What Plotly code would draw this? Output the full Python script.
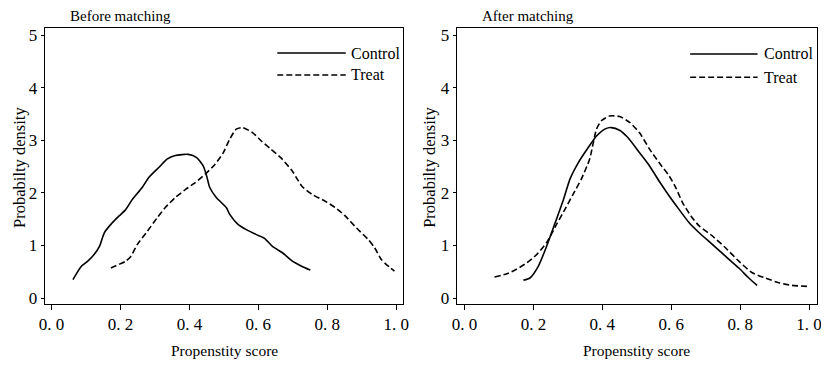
import plotly.graph_objects as go

# ---- data ----
before_control_x = [0.062, 0.086, 0.105, 0.124, 0.139, 0.153, 0.172, 0.196, 0.215, 0.234, 0.263, 0.282, 0.311,
                    0.335, 0.359, 0.397, 0.421, 0.440, 0.450, 0.459, 0.478, 0.507, 0.517, 0.541, 0.565, 0.593,
                    0.617, 0.641, 0.670, 0.699, 0.727, 0.751]
before_control_y = [0.35, 0.60, 0.70, 0.83, 0.98, 1.24, 1.40, 1.56, 1.68, 1.87, 2.10, 2.29, 2.48,
                    2.64, 2.71, 2.73, 2.67, 2.51, 2.32, 2.10, 1.91, 1.72, 1.59, 1.40, 1.30, 1.21,
                    1.14, 0.98, 0.86, 0.70, 0.60, 0.53]

before_treat_x = [0.172, 0.196, 0.215, 0.230, 0.249, 0.278, 0.306, 0.330, 0.359, 0.388, 0.416, 0.445, 0.474,
                  0.498, 0.517, 0.536, 0.555, 0.584, 0.608, 0.636, 0.665, 0.699, 0.713, 0.727, 0.756, 0.794,
                  0.823, 0.852, 0.885, 0.919, 0.938, 0.957, 0.971, 0.995]
before_treat_y = [0.57, 0.64, 0.70, 0.79, 1.02, 1.27, 1.52, 1.72, 1.91, 2.06, 2.19, 2.35, 2.54,
                  2.76, 3.02, 3.21, 3.24, 3.14, 2.99, 2.83, 2.67, 2.41, 2.26, 2.12, 1.97, 1.84,
                  1.72, 1.56, 1.33, 1.11, 0.95, 0.73, 0.64, 0.51]

after_control_x = [0.171, 0.190, 0.214, 0.238, 0.263, 0.287, 0.306, 0.330, 0.359, 0.383, 0.407, 0.426, 0.450,
                   0.474, 0.508, 0.537, 0.565, 0.594, 0.623, 0.652, 0.681, 0.719, 0.758, 0.796, 0.825, 0.849]
after_control_y = [0.34, 0.38, 0.60, 0.98, 1.43, 1.87, 2.26, 2.57, 2.86, 3.08, 3.21, 3.24, 3.19,
                   3.05, 2.76, 2.51, 2.22, 1.94, 1.68, 1.43, 1.24, 1.02, 0.79, 0.57, 0.38, 0.24]

after_treat_x = [0.087, 0.123, 0.152, 0.181, 0.210, 0.238, 0.267, 0.291, 0.315, 0.339, 0.363, 0.383, 0.397,
                 0.421, 0.450, 0.479, 0.508, 0.537, 0.565, 0.594, 0.613, 0.633, 0.657, 0.681, 0.719, 0.758,
                 0.796, 0.835, 0.873, 0.912, 0.950, 0.998]
after_treat_y = [0.40, 0.46, 0.55, 0.67, 0.83, 1.05, 1.40, 1.68, 1.97, 2.26, 2.64, 3.21, 3.37,
                 3.46, 3.45, 3.34, 3.14, 2.83, 2.57, 2.32, 2.10, 1.81, 1.56, 1.37, 1.18, 0.95,
                 0.70, 0.48, 0.38, 0.29, 0.24, 0.22]

x_tick_vals = [0.0, 0.2, 0.4, 0.6, 0.8, 1.0]
x_tick_text = ["0. 0", "0. 2", "0. 4", "0. 6", "0. 8", "1. 0"]
y_tick_vals = [0, 1, 2, 3, 4, 5]
panel_titles = ["Before matching", "After matching"]
series_names = ["Control", "Treat"]
x_title = "Propenstity score"
y_title = "Probabilty density"

# ---- figure ----
# The page body has an 8px margin; keep the figure small enough that no
# scrollbars appear (8 + W + 8 <= 829, 8 + H + 8 <= 369) and map reference
# pixel positions into figure pixels.
W, H = 813, 353
X0 = 6
S = W / (827.0 - X0)   # slight horizontal squeeze (ref x 6..827 -> fig 0..813)
FONT = "Liberation Serif"
DASH = "6px,3px"

def px(ref_x):
    return (ref_x - X0) * S / W

def py(ref_y):
    return (H - (ref_y - 8)) / H

fig = go.Figure()

def add_line(x, y, dash, xa, ya):
    fig.add_trace(go.Scatter(x=x, y=y, mode="lines", xaxis=xa, yaxis=ya, showlegend=False,
                             line=dict(color="black", width=1.6, dash=dash, shape="spline", smoothing=0.6),
                             hoverinfo="skip"))

add_line(before_control_x, before_control_y, "solid", "x", "y")
add_line(before_treat_x, before_treat_y, DASH, "x", "y")
add_line(after_control_x, after_control_y, "solid", "x2", "y2")
add_line(after_treat_x, after_treat_y, DASH, "x2", "y2")

# geometry in reference-image pixels
y_dom = [py(304), py(28)]
left_box = (43, 405)
right_box = (459, 823)

def xaxis(box, rng, anchor):
    return dict(domain=[px(box[0]), px(box[1])], range=rng, anchor=anchor, automargin=False,
                tickvals=x_tick_vals, ticktext=x_tick_text, ticks="outside", ticklen=5,
                tickcolor="black", tickwidth=1, showline=True, mirror=True, linecolor="black",
                linewidth=1, showgrid=False, zeroline=False, ticklabeloverflow="allow",
                tickfont=dict(family=FONT, size=17, color="black"))

def yaxis(rng, anchor):
    return dict(domain=y_dom, range=rng, anchor=anchor, automargin=False, tickvals=y_tick_vals,
                ticks="outside", ticklen=3, tickcolor="black", tickwidth=1,
                showline=True, mirror=True, linecolor="black", linewidth=1,
                showgrid=False, zeroline=False,
                tickfont=dict(family=FONT, size=17, color="black"))

xr_left = [(43 - 50) / 348, (405 - 50) / 348]
xr_right = [(459 - 467) / 348, (823 - 467) / 348]
yr = [(298 - 304) / 52.6, (298 - 28) / 52.6]

fig.update_layout(
    width=W, height=H, margin=dict(l=0, r=0, t=0, b=0),
    paper_bgcolor="white", plot_bgcolor="white",
    xaxis=xaxis(left_box, xr_left, "y"),
    yaxis=yaxis(yr, "x"),
    xaxis2=xaxis(right_box, xr_right, "y2"),
    yaxis2=yaxis(yr, "x2"),
    showlegend=False,
)

def paper_text(xpix, ypix, txt, size, xanchor="center", angle=0):
    fig.add_annotation(x=px(xpix), y=py(ypix), xref="paper", yref="paper", text=txt,
                       showarrow=False, xanchor=xanchor, yanchor="middle", textangle=angle,
                       font=dict(family=FONT, size=size, color="black"))

# panel titles
paper_text(67, 16, panel_titles[0], 15, xanchor="left")
paper_text(483, 16, panel_titles[1], 15, xanchor="left")
# axis titles
paper_text(225, 350, x_title, 15.5)
paper_text(641, 350, x_title, 15.5)
paper_text(18, 167, y_title, 16.5, angle=-90)
paper_text(432, 167, y_title, 16.5, angle=-90)

# legends (keys drawn as shapes in axis-domain coordinates)
legend_specs = [
    ("x domain", "y domain", 0.649, 0.840, 0.848, [0.909, 0.830]),
    ("x2 domain", "y2 domain", 0.648, 0.835, 0.846, [0.906, 0.822]),
]
for xref, yref, x0, x1, xt, ys in legend_specs:
    for name, dash, yy in zip(series_names, ["solid", DASH], ys):
        fig.add_shape(type="line", xref=xref, yref=yref, x0=x0, x1=x1, y0=yy, y1=yy,
                      line=dict(color="black", width=1.5, dash=dash))
        fig.add_annotation(xref=xref, yref=yref, x=xt, y=yy, text=name, showarrow=False,
                           xanchor="left", yanchor="middle",
                           font=dict(family=FONT, size=16, color="black"))

fig.write_html("out.html")
